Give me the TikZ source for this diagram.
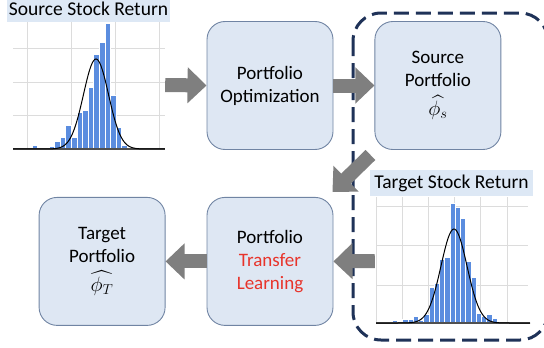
\documentclass[tikz,border=0pt]{standalone}
\usepackage{fontspec}
\setmainfont{Carlito}
\usepackage{amsmath, amssymb}
\usetikzlibrary{positioning}
\usetikzlibrary{arrows.meta}

\definecolor{boxfill}{HTML}{DEE7F3}
\definecolor{boxline}{HTML}{7084A3}
\definecolor{titlefill}{HTML}{DDE8F5}
\definecolor{barblue}{HTML}{5B8DDF}
\definecolor{gridgray}{HTML}{DCDCDC}
\definecolor{axisgray}{HTML}{505050}
\definecolor{arrowgray}{HTML}{7F7F7F}
\definecolor{framenavy}{HTML}{1F3258}
\definecolor{tlred}{HTML}{E8332A}

\newcommand{\pfhat}[1]{{\fontsize{21}{21}\selectfont$\widehat{\phi_{#1}}$}}

\begin{document}
\begin{tikzpicture}[x=1pt,y=-1pt]
\tikzstyle{pbox}=[draw=boxline, line width=0.9pt, fill=boxfill, rounded corners=18pt,
  minimum width=126pt, minimum height=128pt, align=center,
  font=\fontsize{19}{23}\selectfont]
\tikzstyle{htitle}=[fill=titlefill, inner sep=0pt, minimum height=26pt, minimum width=163pt,
  font=\fontsize{19.5}{22}\selectfont]
\tikzstyle{blockarrow}=[arrowgray, line width=14pt, -{Triangle[length=19pt,width=35pt]}]
\tikzstyle{grpframe}=[draw=framenavy, line width=3pt, dash pattern=on 15pt off 7pt, rounded corners=28pt]
\tikzstyle{bar}=[fill=barblue, draw=white, line width=0.3pt]
\tikzstyle{gridline}=[gridgray, line width=0.8pt]
\useasboundingbox (0,0) rectangle (544,348);

% group frame
\draw[grpframe] (353,13) rectangle (548,340);

% boxes
\node[pbox] (opt) at (270,85.5) {Portfolio\\Optimization};
\node[pbox, right=41pt of opt] (srcpf) {Source\\Portfolio\\[6pt]\pfhat{s}};
\node[pbox, below=47pt of opt] (ptl) {Portfolio\\\textcolor{tlred}{Transfer}\\\textcolor{tlred}{Learning}};
\node[pbox, left=41pt of ptl] (tgtpf) {Target\\Portfolio\\[6pt]\pfhat{T}};

% source histogram
\node[htitle] (srctitle) at (88.5,9) {Source Stock Return};
\node[minimum width=152pt, minimum height=130pt, inner sep=0pt] (srchist) at (89,85) {};
\foreach \gx in {27,71,115,159} \draw[gridline] (\gx,22) -- (\gx,149);
\foreach \gy in {48,82,115} \draw[gridline] (13,\gy) -- (165,\gy);
\foreach \h [count=\i from 0] in {4,0,0,3,8,12,24,12,37,39,62,95,107,126,54,22,4,2}
  {\ifnum\h>0 \draw[bar] ({32+5.6*\i},149) rectangle ({37.6+5.6*\i},{149-\h});\fi}
\draw[axisgray, line width=1.2pt] (13,149) -- (165,149);
\draw[black, line width=1pt] plot[domain=13:165, samples=120, smooth]
  (\x,{149-90*exp(-((\x-96)^2)/312.5)});

% target histogram
\node[htitle] (tgttitle) at (451.5,183) {Target Stock Return};
\node[minimum width=155pt, minimum height=124pt, inner sep=0pt] (tgthist) at (452.5,261) {};
\foreach \gx in {376,402,428,454,480,507} \draw[gridline] (\gx,197) -- (\gx,323);
\foreach \gy in {206,245,285} \draw[gridline] (376,\gy) -- (528,\gy);
\foreach \h [count=\i from 0] in {3,0,4,4,7,3,9,36,40,64,66,120,116,105,62,46,10,7,9,5}
  {\ifnum\h>0 \draw[bar] ({392+5.25*\i},323) rectangle ({397.25+5.25*\i},{323-\h});\fi}
\draw[axisgray, line width=1.2pt] (376,323) -- (530,323);
\draw[black, line width=1pt] plot[domain=376:530, samples=120, smooth]
  (\x,{323-94*exp(-((\x-454)^2)/338)});

% arrows
\draw[blockarrow] (srchist.east) -- (opt.west);
\draw[blockarrow] (opt.east) -- (srcpf.west);
\draw[blockarrow] ([shift={(-4,5)}]srcpf.south west) -- ([shift={(-1,-5)}]ptl.north east);
\draw[blockarrow] (tgthist.west) -- (ptl.east);
\draw[blockarrow] (ptl.west) -- (tgtpf.east);
\end{tikzpicture}
\end{document}
